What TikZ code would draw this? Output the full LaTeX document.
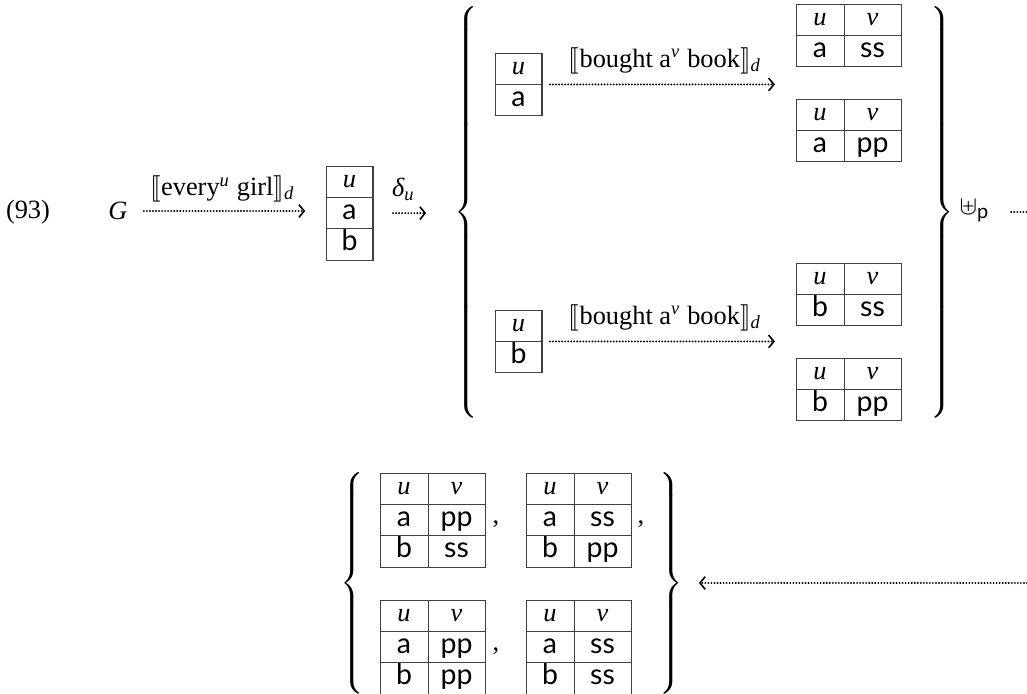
\documentclass[tikz,border=0pt]{standalone}
\usepackage{fontspec}
\setmainfont{Liberation Serif}
\setsansfont{Lato}[Scale=1.08]
\usepackage{stmaryrd}
\usetikzlibrary{matrix,arrows.meta}
\newcommand\uvar{{\rmfamily\itshape u}}
\newcommand\nuvar{{\rmfamily\itshape ν}}
\newcommand\lbrc[1]{$\delimitershortfall=0pt\delimiterfactor=1000\left\{\vcenter{\hrule height #1 width 0pt}\right.$}
\newcommand\rbrc[1]{$\delimitershortfall=0pt\delimiterfactor=1000\left.\vcenter{\hrule height #1 width 0pt}\right\}$}
\tikzset{
  cell/.style={draw=black!75, line width=0.4pt, minimum height=11.9pt, inner sep=0pt,
    text height=6.6pt, text depth=1.9pt, anchor=center, font=\sffamily},
  tblone/.style={matrix of nodes, inner sep=0pt, row sep=-0.4pt, column sep=-0.4pt,
    nodes={cell, minimum width=17.8pt}},
  tbltwo/.style={matrix of nodes, inner sep=0pt, row sep=-0.4pt, column sep=-0.4pt,
    nodes={cell}, column 1/.style={nodes={minimum width=18.2pt}},
    column 2/.style={nodes={minimum width=21.6pt}}},
  dotline/.style={line width=0.8pt, line cap=round, dash pattern=on 0pt off 1.15pt},
  dotarrow/.style={dotline, -{Straight Barb[length=2pt,width=4.8pt,line width=0.6pt]}},
  lab/.style={midway, anchor=base, yshift=#1, inner sep=0pt},
  lab/.default=6pt,
  brc/.style={inner sep=0pt},
}
\begin{document}
\begin{tikzpicture}[x=0.379pt,y=-0.379pt]
\useasboundingbox (0,0) rectangle (1027,694);
% first line
\node (ex) at (28,212) {(93)};
\node[inner sep=0pt] (G) at (118,211) {\textit{G}};
\matrix (T0) [tblone, anchor=north west] at (325,165) {\uvar\\ a\\ b\\};
\draw[dotarrow, shorten <=6pt, shorten >=7.5pt] (G.east) --
  node[lab=5.7pt, xshift=-1.5pt] (l1) {$\llbracket$every\textsuperscript{\itshape u} girl$\rrbracket$\textsubscript{\itshape d}}
  (G.east -| T0.west);
\node[brc] (BL) at (468,212) {\lbrc{155pt}};
\draw[dotarrow, shorten <=7.2pt, shorten >=10.6pt] (T0.east) --
  node[lab=6.4pt, xshift=-4pt] (l2) {{\itshape δ}\textsubscript{\itshape u}}
  (T0.east -| BL.west);
% upper branch
\matrix (T1) [tblone, anchor=north west] at (494,52) {\uvar\\ a\\};
\matrix (T2) [tbltwo, anchor=north west] at (795,3) {\uvar & \nuvar\\ a & ss\\};
\matrix (T3) [tbltwo, anchor=north west] at (795,98) {\uvar & \nuvar\\ a & pp\\};
\draw[dotarrow, shorten <=2.6pt, shorten >=7.6pt] (T1.east) --
  node[lab=6.5pt, xshift=-1.5pt] (l3) {$\llbracket$bought a\textsuperscript{\itshape ν} book$\rrbracket$\textsubscript{\itshape d}}
  (T1.east -| T2.west);
% lower branch
\matrix (T4) [tblone, anchor=north west] at (494,309) {\uvar\\ b\\};
\matrix (T5) [tbltwo, anchor=north west] at (795,262) {\uvar & \nuvar\\ b & ss\\};
\matrix (T6) [tbltwo, anchor=north west] at (795,357) {\uvar & \nuvar\\ b & pp\\};
\draw[dotarrow, shorten <=2.6pt, shorten >=7.6pt] (T4.east) --
  node[lab=6.5pt, xshift=-1.5pt] (l4) {$\llbracket$bought a\textsuperscript{\itshape ν} book$\rrbracket$\textsubscript{\itshape d}}
  (T4.east -| T5.west);
\node[brc] (BR) at (941,212) {\rbrc{155pt}};
\node[anchor=base west, inner sep=0pt] (up) at (959,215) {$\uplus$\textsubscript{\sffamily p}};
\coordinate (r1) at (1027,212);
\draw[dotline, shorten <=8pt] (r1 -| up.east) -- (r1);
% bottom result
\node[brc] (BLb) at (354,583) {\lbrc{81pt}};
\matrix (B1) [tbltwo, anchor=north west] at (379,472) {\uvar & \nuvar\\ a & pp\\ b & ss\\};
\matrix (B2) [tbltwo, anchor=north west] at (525,472) {\uvar & \nuvar\\ a & ss\\ b & pp\\};
\matrix (B3) [tbltwo, anchor=north west] at (379,599) {\uvar & \nuvar\\ a & pp\\ b & pp\\};
\matrix (B4) [tbltwo, anchor=north west] at (525,599) {\uvar & \nuvar\\ a & ss\\ b & ss\\};
\node[anchor=base, inner sep=0pt] (c1) at (496,524) {,};
\node[anchor=base, inner sep=0pt] (c2) at (641,524) {,};
\node[anchor=base, inner sep=0pt] (c3) at (496,651) {,};
\node[brc] (BRb) at (670,583) {\rbrc{81pt}};
\coordinate (r2) at (1027,583);
\draw[dotarrow, shorten >=5.7pt] (r2) -- (r2 -| BRb.east);
\end{tikzpicture}
\end{document}
